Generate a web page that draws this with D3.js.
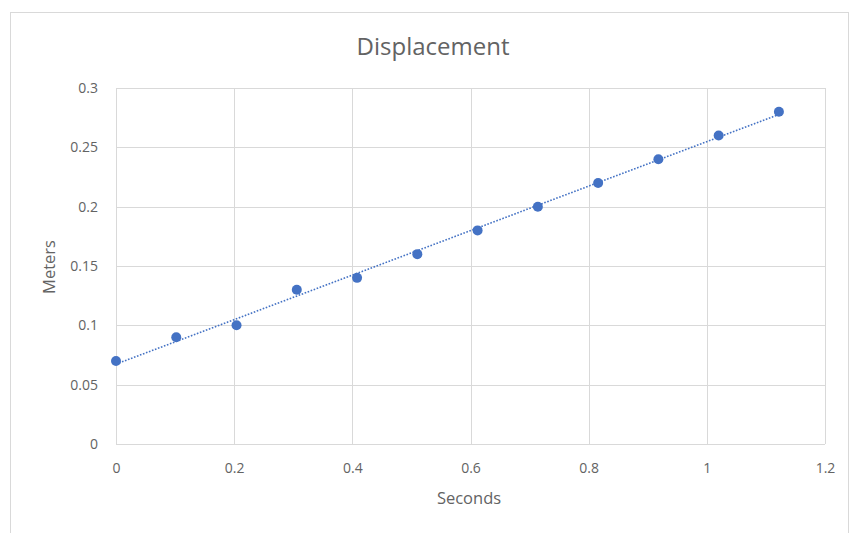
<!DOCTYPE html>
<html>
<head>
<meta charset="utf-8">
<script src="https://cdn.jsdelivr.net/npm/d3@7"></script>
<style>
  html, body { margin: 0; padding: 0; background: #fff; }
  svg { display: block; font-family: "Open Sans", "Noto Sans", sans-serif; }
</style>
</head>
<body>
<svg id="chart" width="858" height="533"></svg>
<script>
// Time (s) and measured displacement (m)
const seconds = [0, 0.102, 0.204, 0.306, 0.408, 0.51, 0.612, 0.714, 0.816, 0.918, 1.02, 1.122];
const meters  = [0.07, 0.09, 0.10, 0.13, 0.14, 0.16, 0.18, 0.20, 0.22, 0.24, 0.26, 0.28];
const xTicks = [0, 0.2, 0.4, 0.6, 0.8, 1, 1.2];
const yTicks = [0, 0.05, 0.1, 0.15, 0.2, 0.25, 0.3];
const titleText = "Displacement";
const xLabel = "Seconds";
const yLabel = "Meters";

const svg = d3.select("#chart");
const plot = { left: 116, right: 825, top: 88, bottom: 444 };

// Chart border
svg.append("rect")
  .attr("x", 10.5).attr("y", 12.5)
  .attr("width", 838).attr("height", 540)
  .attr("fill", "#fff").attr("stroke", "#d9d9d9").attr("stroke-width", 1);

const x = d3.scaleLinear().domain([0, 1.2]).range([plot.left, plot.right]);
const y = d3.scaleLinear().domain([0, 0.3]).range([plot.bottom, plot.top]);

const textColor = "#636363";
const gridColor = "#d9d9d9";

// Gridlines
svg.append("g").selectAll("line").data(xTicks).join("line")
  .attr("x1", d => Math.round(x(d)) + 0.5).attr("x2", d => Math.round(x(d)) + 0.5)
  .attr("y1", plot.top).attr("y2", plot.bottom)
  .attr("stroke", gridColor).attr("stroke-width", 1);
svg.append("g").selectAll("line").data(yTicks).join("line")
  .attr("y1", d => Math.round(y(d)) + 0.5).attr("y2", d => Math.round(y(d)) + 0.5)
  .attr("x1", plot.left).attr("x2", plot.right)
  .attr("stroke", gridColor).attr("stroke-width", 1);

// Axes (labels only; lines come from the grid)
const xAxis = svg.append("g")
  .attr("transform", `translate(0,${plot.bottom + 11})`)
  .call(d3.axisBottom(x).tickValues(xTicks).tickSize(0).tickPadding(8).tickFormat(d3.format("")));
const yAxis = svg.append("g")
  .attr("transform", `translate(${plot.left - 12},0)`)
  .call(d3.axisLeft(y).tickValues(yTicks).tickSize(0).tickPadding(6).tickFormat(d3.format("")));
[xAxis, yAxis].forEach(g => {
  g.select(".domain").remove();
  g.selectAll("text").attr("fill", textColor).style("font-size", "14px")
    .style("font-family", "'Open Sans', sans-serif");
});

// Least-squares linear trendline
const n = seconds.length;
const mx = d3.mean(seconds), my = d3.mean(meters);
let sxy = 0, sxx = 0;
for (let i = 0; i < n; i++) {
  sxy += (seconds[i] - mx) * (meters[i] - my);
  sxx += (seconds[i] - mx) ** 2;
}
const slope = sxy / sxx, intercept = my - slope * mx;
const xMin = d3.min(seconds), xMax = d3.max(seconds);
svg.append("line")
  .attr("x1", x(xMin)).attr("y1", y(intercept + slope * xMin))
  .attr("x2", x(xMax)).attr("y2", y(intercept + slope * xMax))
  .attr("stroke", "#4472C4").attr("stroke-width", 1.6)
  .attr("stroke-dasharray", "1.6,1.6");

// Data points
svg.append("g").selectAll("circle").data(seconds.map((s, i) => [s, meters[i]])).join("circle")
  .attr("cx", d => x(d[0])).attr("cy", d => y(d[1])).attr("r", 5)
  .attr("fill", "#4472C4");

// Title and axis titles
svg.append("text").attr("x", 433).attr("y", 55).attr("text-anchor", "middle")
  .attr("fill", textColor).style("font-size", "24px").text(titleText);
svg.append("text").attr("x", 469).attr("y", 504).attr("text-anchor", "middle")
  .attr("fill", textColor).style("font-size", "16.5px").text(xLabel);
svg.append("text").attr("transform", `translate(55,267) rotate(-90)`)
  .attr("text-anchor", "middle")
  .attr("fill", textColor).style("font-size", "16.5px").text(yLabel);
</script>
</body>
</html>
